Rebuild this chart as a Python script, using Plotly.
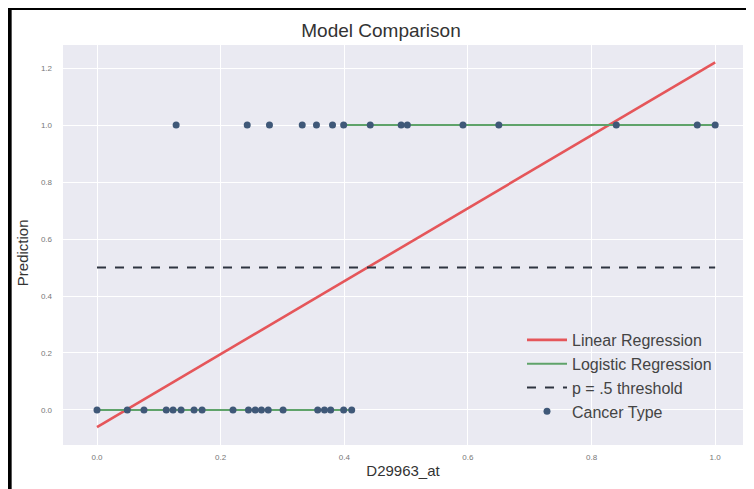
import plotly.graph_objects as go

# Data
x_pos = [0.128, 0.243, 0.279, 0.332, 0.355, 0.381, 0.399, 0.442, 0.492, 0.502,
         0.592, 0.650, 0.840, 0.971, 1.0]
x_neg = [0.0, 0.049, 0.076, 0.112, 0.123, 0.136, 0.157, 0.170, 0.220, 0.245,
         0.256, 0.266, 0.277, 0.301, 0.357, 0.368, 0.378, 0.399, 0.412]
lin_x = [0.0, 1.0]
lin_y = [-0.06, 1.22]
logit_x = [0.0, 0.412, None, 0.399, 1.0]
logit_y = [0.0, 0.0, None, 1.0, 1.0]
thr_x = [0.0, 1.0]
thr_y = [0.5, 0.5]
x_ticks = [0.0, 0.2, 0.4, 0.6, 0.8, 1.0]
y_ticks = [0.0, 0.2, 0.4, 0.6, 0.8, 1.0, 1.2]

fig = go.Figure()
fig.add_trace(go.Scatter(x=lin_x, y=lin_y, mode="lines", name="Linear Regression",
                         line=dict(color="#E5565A", width=2.6)))
fig.add_trace(go.Scatter(x=logit_x, y=logit_y, mode="lines", name="Logistic Regression",
                         line=dict(color="#5FA36A", width=2), connectgaps=False))
fig.add_trace(go.Scatter(x=thr_x, y=thr_y, mode="lines", name="p = .5 threshold",
                         line=dict(color="#2E3440", width=2, dash="dash")))
fig.add_trace(go.Scatter(x=x_pos + x_neg, y=[1.0] * len(x_pos) + [0.0] * len(x_neg),
                         mode="markers", name="Cancer Type",
                         marker=dict(color="#3F5878", size=7)))

font = "Liberation Sans, Arial, sans-serif"
fig.update_layout(
    width=746, height=481,
    margin=dict(l=55, r=11, t=37, b=44),
    paper_bgcolor="white",
    plot_bgcolor="#EAEAF2",
    font=dict(family=font, color="#333333"),
    title=dict(text="Model Comparison", x=0.5, xanchor="center", y=0.954, yanchor="middle",
               font=dict(size=19, color="#333333", family=font)),
    showlegend=True,
    legend=dict(x=0.675, y=0.305, xanchor="left", yanchor="top",
                bgcolor="rgba(0,0,0,0)", font=dict(size=16, color="#444444"),
                tracegroupgap=0, itemwidth=40),
    shapes=[
        dict(type="rect", xref="paper", yref="paper",
             x0=-0.2, x1=1.1, y0=1.0875, y1=1.2,
             fillcolor="black", line=dict(width=0), layer="below"),
        dict(type="rect", xref="paper", yref="paper",
             x0=-0.2, x1=-0.0755, y0=-0.2, y1=1.2,
             fillcolor="black", line=dict(width=0), layer="below"),
    ],
    annotations=[dict(text="Prediction", xref="paper", yref="paper", x=-0.06, y=0.48,
                      xanchor="center", yanchor="middle", textangle=-90, showarrow=False,
                      font=dict(size=15, color="#333333", family=font))],
)
fig.update_xaxes(range=[-0.055, 1.045], tickvals=x_ticks, tickformat=".1f",
                 showgrid=True, gridcolor="white", gridwidth=1, zeroline=False,
                 showline=False, ticks="", tickfont=dict(size=8, color="#777777"),
                 ticklabelstandoff=6, automargin=False,
                 title=dict(text="D29963_at", font=dict(size=15, color="#333333"), standoff=4))
fig.update_yaxes(range=[-0.123, 1.281], tickvals=y_ticks, tickformat=".1f",
                 showgrid=True, gridcolor="white", gridwidth=1, zeroline=False,
                 showline=False, ticks="", tickfont=dict(size=8, color="#777777"),
                 ticklabelstandoff=10, automargin=False)

fig.write_html("out.html")
